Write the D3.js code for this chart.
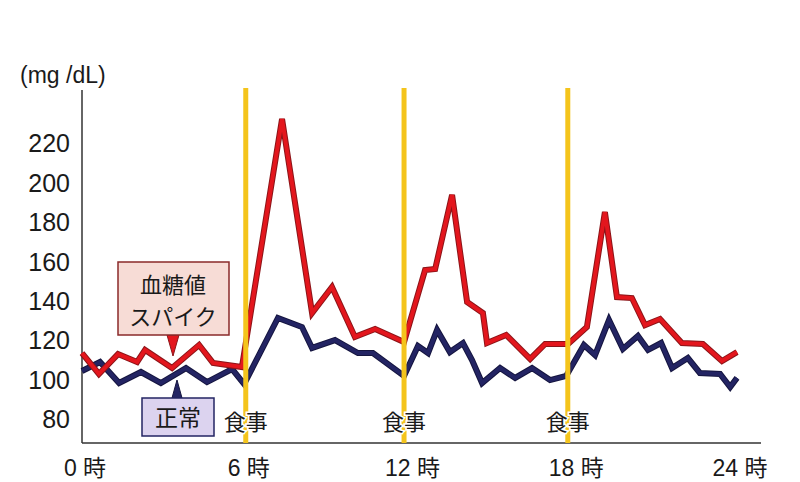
<!DOCTYPE html>
<html>
<head>
<meta charset="utf-8">
<script src="https://cdn.jsdelivr.net/npm/d3@7"></script>
<style>
  body { margin: 0; background: #fff; }
  text { font-family: "Liberation Sans", "Noto Sans CJK JP", sans-serif; fill: #1a1a1a; }
</style>
</head>
<body>
<div id="chart"></div>
<script>
// hours and mg/dL
const spikeTimes = [0, 0.62, 1.32, 2.02, 2.31, 3.3, 4.29, 4.8, 5.86, 7.33, 8.43, 9.16, 10.0, 10.74, 11.8,
    12.57, 12.94, 13.56, 14.11, 14.69, 14.84, 15.54, 16.42, 16.97, 17.81, 18.5, 19.16, 19.6, 20.15,
    20.63, 21.18, 21.98, 22.75, 23.45, 24];
const spikeValues = [113.6, 103, 113.1, 109.1, 115.2, 106, 117.7, 108.6, 106.5, 232.3, 133.9, 147.1, 121.8, 125.8, 119.2,
    155.7, 156.2, 193.8, 139.5, 133.9, 118.7, 122.8, 110.6, 118.2, 118.2, 126.8, 185.1, 142, 141.5,
    127.8, 130.9, 118.7, 118.2, 109.6, 114.1];

const normalTimes = [0, 0.66, 1.36, 2.16, 2.89, 3.81, 4.58, 5.5, 5.94, 7.18, 8.06, 8.43, 9.27, 10.11, 10.66, 11.8,
    12.31, 12.68, 13.01, 13.48, 13.96, 14.29, 14.66, 15.32, 15.87, 16.49, 17.15, 17.74, 18.39, 18.8,
    19.31, 19.82, 20.37, 20.74, 21.22, 21.62, 22.2, 22.64, 23.38, 23.75, 24];
const normalValues = [104.5, 109.1, 98.4, 104, 98.4, 106, 98.9, 105.5, 97.9, 131.4, 126.8, 116.2, 120.2, 113.6, 113.6, 102,
    117.2, 113.6, 125.3, 114.1, 118.7, 110.1, 98.4, 106, 101, 106, 99.9, 102, 117.7, 112.6,
    130.4, 115.7, 122.3, 115.2, 118.7, 106, 111.1, 103.5, 103, 96.4, 101];

const mealTimes = [6, 11.8, 17.8];
const xTicks = [0, 6, 12, 18, 24];
const yTicks = [80, 100, 120, 140, 160, 180, 200, 220];

const unitLabel = "(mg /dL)";
const mealLabel = "食事";
const spikeLabel = ["血糖値", "スパイク"];
const normalLabel = "正常";

const width = 800, height = 482;
const svg = d3.select("#chart").append("svg")
    .attr("width", width)
    .attr("height", height);

const x = d3.scaleLinear().domain([0, 24]).range([82, 737]);
const y = d3.scaleLinear().domain([68, 247]).range([443, 90]);

// axes
svg.append("line")
    .attr("x1", 82).attr("x2", 82)
    .attr("y1", y(247)).attr("y2", y(68))
    .attr("stroke", "#333").attr("stroke-width", 1.5);
svg.append("line")
    .attr("x1", 82).attr("x2", 761)
    .attr("y1", y(68)).attr("y2", y(68))
    .attr("stroke", "#333").attr("stroke-width", 1.5);

svg.selectAll(".ytick")
    .data(yTicks)
    .enter()
    .append("text")
    .attr("class", "ytick")
    .attr("x", 70)
    .attr("y", d => y(d))
    .attr("dy", "0.36em")
    .attr("text-anchor", "end")
    .style("font-size", "25px")
    .text(d => d);

svg.selectAll(".xtick")
    .data(xTicks)
    .enter()
    .append("text")
    .attr("class", "xtick")
    .attr("x", d => x(d) + 3)
    .attr("y", 468)
    .attr("dy", "0.36em")
    .attr("text-anchor", "middle")
    .style("font-size", "23px")
    .text(d => d + " 時");

svg.append("text")
    .attr("x", 20)
    .attr("y", 75)
    .attr("dy", "0.36em")
    .style("font-size", "23px")
    .text(unitLabel);

// series
let normal = normalTimes.map((t, i) => [t, normalValues[i]]);
let spike = spikeTimes.map((t, i) => [t, spikeValues[i]]);
let line = d3.line().x(d => x(d[0])).y(d => y(d[1]));

svg.append("path")
    .attr("d", line(normal))
    .attr("fill", "none")
    .attr("stroke", "#15153f")
    .attr("stroke-width", 6);
svg.append("path")
    .attr("d", line(normal))
    .attr("fill", "none")
    .attr("stroke", "#232463")
    .attr("stroke-width", 4);

svg.append("path")
    .attr("d", line(spike))
    .attr("fill", "none")
    .attr("stroke", "#8c1418")
    .attr("stroke-width", 6);
svg.append("path")
    .attr("d", line(spike))
    .attr("fill", "none")
    .attr("stroke", "#e3161d")
    .attr("stroke-width", 4);

// meal lines on top
svg.selectAll(".meal")
    .data(mealTimes)
    .enter()
    .append("line")
    .attr("class", "meal")
    .attr("x1", d => x(d)).attr("x2", d => x(d))
    .attr("y1", 88).attr("y2", y(68))
    .attr("stroke", "#f4c41c")
    .attr("stroke-width", 5);

svg.selectAll(".mealText")
    .data(mealTimes)
    .enter()
    .append("text")
    .attr("class", "mealText")
    .attr("x", d => x(d))
    .attr("y", 422)
    .attr("dy", "0.36em")
    .attr("text-anchor", "middle")
    .attr("stroke", "#fff")
    .attr("stroke-width", 3)
    .attr("paint-order", "stroke")
    .style("font-size", "22px")
    .text(mealLabel);

// callout: spike
let spikeBox = svg.append("g");
spikeBox.append("path")
    .attr("d", "M167,335 L173,356 L179,335 Z")
    .attr("fill", "#e3161d")
    .attr("stroke", "#8c1418")
    .attr("stroke-width", 1);
spikeBox.append("rect")
    .attr("x", 118).attr("y", 262)
    .attr("width", 111).attr("height", 73)
    .attr("fill", "#f7dcd6")
    .attr("stroke", "#8a2a2a")
    .attr("stroke-width", 1.5);
spikeBox.selectAll("text")
    .data(spikeLabel)
    .enter()
    .append("text")
    .attr("x", 173)
    .attr("y", (d, i) => 285 + i * 32)
    .attr("dy", "0.36em")
    .attr("text-anchor", "middle")
    .style("font-size", "22px")
    .text(d => d);

// callout: normal
let normalBox = svg.append("g");
normalBox.append("path")
    .attr("d", "M172,398 L177,380 L182,398 Z")
    .attr("fill", "#232463")
    .attr("stroke", "#15153f")
    .attr("stroke-width", 1);
normalBox.append("rect")
    .attr("x", 142).attr("y", 398)
    .attr("width", 72).attr("height", 38)
    .attr("fill", "#dcd3ef")
    .attr("stroke", "#232463")
    .attr("stroke-width", 1.5);
normalBox.append("text")
    .attr("x", 178)
    .attr("y", 418)
    .attr("dy", "0.36em")
    .attr("text-anchor", "middle")
    .style("font-size", "23px")
    .text(normalLabel);
</script>
</body>
</html>
